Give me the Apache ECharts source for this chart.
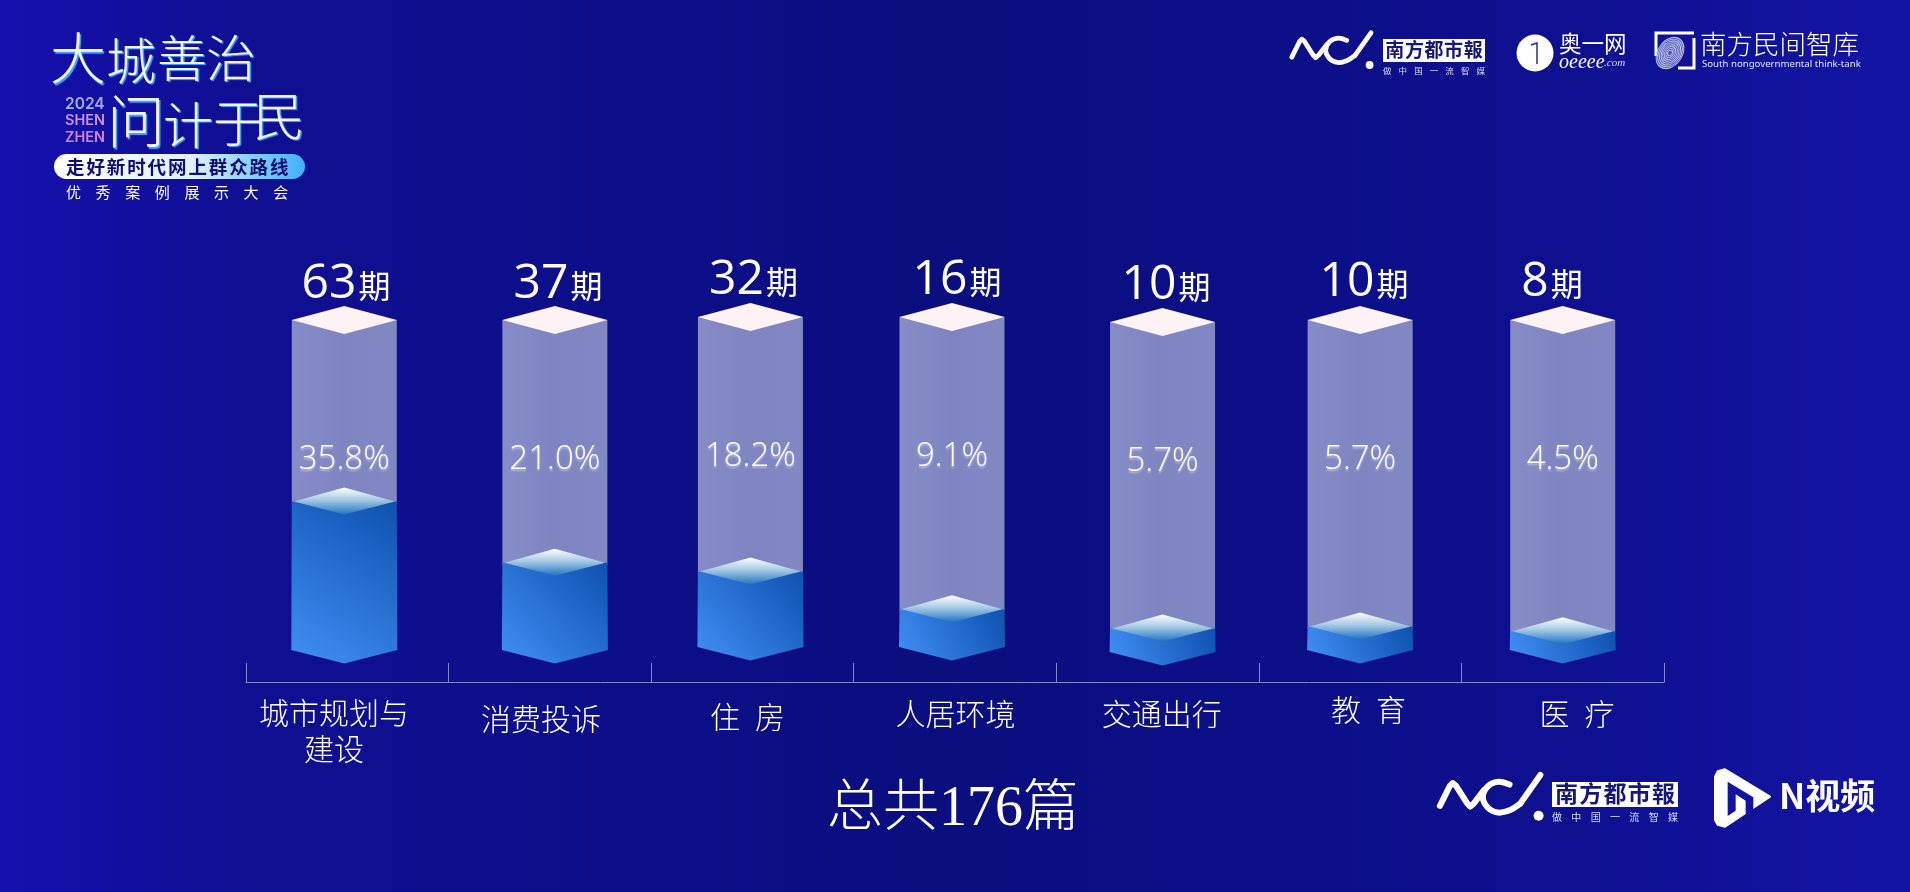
<!DOCTYPE html>
<html><head><meta charset="utf-8">
<style>html,body{margin:0;padding:0;background:#0a0e7e;overflow:hidden}#c{width:1910px;height:892px}</style>
<script src="https://cdn.jsdelivr.net/npm/echarts@6/dist/echarts.min.js"></script>
</head><body><div id="c"></div>
<script>
// ---- data ----
const categories = ['城市规划与\n建设','消费投诉','住 房','人居环境','交通出行','教 育','医 疗'];
const issueCounts = [63,37,32,16,10,10,8];
const sharePercent = ['35.8%','21.0%','18.2%','9.1%','5.7%','5.7%','4.5%'];
const totalLabel = '总共176篇';

// ---- hand placement seen in the artwork, kept apart from the data ----
const barNudgeX = [-3,5,-2,-3,5,0,0];
const barNudgeY = [0,0,-3,-3,2,0,0];
const countCenterX = [347,559,754.5,958,1167,1365,1553];
const countBaseY = [297,297,293,293,298,295,295];
const catCenterX = [334,541,747.5,955.5,1161.7,1368.5,1577];
const catCenterY = [713,719,717,714,714,710,714];

const CJK = '"Noto Sans CJK SC"';
const chart = echarts.init(document.getElementById('c'), null, {renderer:'canvas', width:1910, height:892});
const LG = echarts.graphic.LinearGradient;
const halfW = 52.5, capH = 14;
const DIGIT_FONT = '400 48px "Open Sans"';
const measure = document.createElement('canvas').getContext('2d');

function renderBar(params, api){
  const i = api.value(0), v = api.value(1);
  const cx = api.coord([i,0])[0] + barNudgeX[i], dy = barNudgeY[i];
  const base = api.coord([i,0])[1] + dy;
  const top = api.coord([i,140])[1] + dy;
  const fill = api.coord([i,v])[1] + dy;
  const L = cx-halfW, R = cx+halfW;
  measure.font = DIGIT_FONT;
  const dw = measure.measureText(String(v)).width;
  const split = countCenterX[i] - (dw+36)/2 + dw + 2;
  const kids = [
    {type:'polygon',shape:{points:[[L,top],[R,top],[R,fill+2],[L,fill+2]]},
      style:{fill:new LG(0,0,1,0,[{offset:0,color:'#868cc6'},{offset:.5,color:'#7e85c1'},{offset:1,color:'#8288c4'}])}},
    {type:'polygon',shape:{points:[[L,fill],[R,fill],[R+.5,base],[cx,base+13.5],[L-.5,base]]},
      style:{fill:new LG(0,1,1,0,[{offset:0,color:'#418ff5'},{offset:1,color:'#0f52b0'}])}},
    {type:'polygon',shape:{points:[[L+2,fill],[cx,fill-14],[R-2,fill],[cx,fill+13]]},
      style:{fill:new LG(0,0,0,1,[{offset:0,color:'#ffffff'},{offset:.45,color:'#a8cbe6'},{offset:1,color:'#1f74c2'}])}},
    {type:'polygon',shape:{points:[[L,top],[cx,top-capH],[R,top],[cx,top+capH]]},style:{fill:'#fff3f5'}},
    {type:'text',style:{text:sharePercent[i],x:cx,y:top+140,textAlign:'center',textVerticalAlign:'middle',
      fill:'#fff',font:'300 33px "Open Sans"',textShadowColor:'rgba(255,255,255,.45)',textShadowBlur:2,textShadowOffsetY:2}},
    {type:'text',style:{text:String(v),x:split-2,y:countBaseY[i]-13,textAlign:'right',textVerticalAlign:'middle',fill:'#fff',font:DIGIT_FONT}},
    {type:'text',style:{text:'期',x:split,y:countBaseY[i]-11,textAlign:'left',textVerticalAlign:'middle',fill:'#fff',font:'400 32px '+CJK}},
    {type:'text',style:{text:categories[i].replace(' ','\u2002'),x:catCenterX[i],y:catCenterY[i]-18,textAlign:'center',textVerticalAlign:'top',
      fill:'#fff',font:'300 30px '+CJK,lineHeight:36}}
  ];
  return {type:'group',children:kids};
}

// ---- decoration: logos and titles ----
const W='#fff', g=[];
const T=(text,x,y,font,fill,extra)=>g.push({type:'text',x,y,silent:true,style:Object.assign({text,font,fill,textVerticalAlign:'top'},extra||{})});
const spaced=(s,x0,step,y,font,fill)=>[...s].forEach((c,k)=>T(c,x0+k*step,y,font,fill));

[['大',50,30,56],['城',106,36,50],['善',157,33,50],['治',206,33,50],['问',107,92,58],['计',163,100,50],['于',213,98,50],['民',253,90,52]]
  .forEach(a=>T(a[0],a[1],a[2],'300 '+a[3]+'px '+CJK,'#eef5ff',{textShadowColor:'#4aa6ff',textShadowBlur:1,textShadowOffsetX:1.5,textShadowOffsetY:1.5}));
T('2024',65,96,'600 15.5px Inter','#a9a9ea');
T('SHEN',65,113,'600 14.5px Inter','#cc92e2');
T('ZHEN',65,130,'600 14.5px Inter','#d284da');
g.push({type:'rect',silent:true,shape:{x:54,y:154,width:251,height:25,r:12.5},
  style:{fill:new LG(0,0,1,0,[{offset:0,color:'#ffffff'},{offset:.55,color:'#dff0ff'},{offset:1,color:'#3fb0fb'}])}});
spaced('走好新时代网上群众路线',66,20.4,158,'700 18.5px '+CJK,'#0d1070');
spaced('优秀案例展示大会',66,29.6,185,'400 15px '+CJK,W);

function nc(ox,oy,s){
  const p=(x,y)=>[ox+x*s,oy+y*s], lw=17*s;
  const st={stroke:W,lineWidth:lw,fill:'none',lineCap:'round',lineJoin:'round'};
  g.push({type:'polyline',silent:true,shape:{points:[p(42,122),p(70,66),p(78,58),p(87,65),p(118,114),p(127,124),p(137,116),p(166,78)]},style:st});
  g.push({type:'polyline',silent:true,shape:{smooth:.35,points:[p(238,62),p(208,54),p(178,66),p(163,96),p(176,126),p(206,141),p(240,134),p(268,116)]},style:st});
  g.push({type:'line',silent:true,shape:{x1:p(268,0)[0],y1:p(0,116)[1],x2:p(325,0)[0],y2:p(0,35)[1]},style:st});
  g.push({type:'circle',silent:true,shape:{cx:p(320,0)[0],cy:p(0,150)[1],r:14*s},style:{fill:W}});
}
function paper(x,y,w,h,fs,subFs,subW){
  g.push({type:'rect',silent:true,shape:{x,y,width:w,height:h},style:{fill:W}});
  [...'南方都市報'].forEach((c,k)=>T(c,x+w*.02+k*(w*.96/5)+(w*.96/5-fs)/2,y+(h-fs)/2-1,'700 '+fs+'px '+CJK,'#15187a'));
  [...'做中国一流智媒'].forEach((c,k)=>T(c,x+k*((subW-subFs)/6),y+h+(subFs*.55),'400 '+subFs+'px '+CJK,'#d8dcf4'));
}
nc(1425,762.5,.355); paper(1552,782,126,25,23,10,126);
nc(1280,23,.28); paper(1383,39,102,23,19,8.5,102);

// 奥一网
g.push({type:'circle',silent:true,shape:{cx:1535,cy:53,r:18.5},style:{fill:W}});
g.push({type:'polyline',silent:true,shape:{points:[[1531,45],[1537,43],[1537,64]]},style:{stroke:'#20248a',lineWidth:1.4,fill:'none'}});
T('奥一网',1559,32,'400 22.5px '+CJK,W);
T('oeeee',1559,53,'italic 20px "Liberation Serif"',W);
T('.com',1604,58,'italic 11px "Liberation Serif"','#d8dcf4');

// 南方民间智库
g.push({type:'polyline',silent:true,shape:{points:[[1656,56],[1656,33],[1694,33]]},style:{stroke:W,lineWidth:3,fill:'none'}});
g.push({type:'polyline',silent:true,shape:{points:[[1694,38],[1694,68],[1678,68]]},style:{stroke:W,lineWidth:3,fill:'none'}});
[17,15,13,11,9,7,5,3].forEach((r,k)=>g.push({type:'circle',silent:true,x:1670,y:53,rotation:-.6,scaleX:.72,
  shape:{cx:0,cy:0,r},style:{fill:k===0?'rgba(150,165,225,.45)':'none',stroke:'#ccd4f2',lineWidth:1}}));
T('南方民间智库',1700,31,'300 26.5px '+CJK,W);
T('South nongovernmental think-tank',1702,59,'400 9.65px "Noto Sans"','#e6e9fa');

// N视频
const ip=(x,y)=>[1705+x/3,760+y/3];
g.push({type:'polygon',silent:true,shape:{points:[ip(30,50),ip(38,34),ip(60,28),ip(195,110),ip(60,200),ip(38,194),ip(30,180)]},style:{fill:W,stroke:W,lineWidth:2,lineJoin:'round'}});
g.push({type:'polygon',silent:true,shape:{points:[ip(68,65),ip(145,112),ip(145,160),ip(122,172),ip(122,122),ip(92,103),ip(92,152),ip(68,168)]},style:{fill:'#1214a0'}});
T('N视频',1779,778,'700 35px '+CJK,W);

chart.setOption({
  animation:false,
  backgroundColor:new LG(0,0,1,0,[{offset:0,color:'#150fad'},{offset:.125,color:'#100f93'},{offset:.5,color:'#0a0e7e'},{offset:.82,color:'#0e1090'},{offset:1,color:'#1414a4'}]),
  title:{text:totalLabel,left:948,top:777,textAlign:'center',textStyle:{color:'#fff',fontFamily:'"Liberation Serif",'+CJK,fontSize:56,fontWeight:300}},
  grid:{left:246,right:246,top:320,bottom:242},
  xAxis:{type:'category',data:categories,offset:32,
    axisLine:{onZero:false,lineStyle:{color:'#7f88cc',width:1}},
    axisTick:{show:true,inside:true,length:19,lineStyle:{color:'#7f88cc',width:1}},
    axisLabel:{show:false},splitLine:{show:false}},
  yAxis:{type:'value',min:0,max:140,show:false,splitLine:{show:false}},
  series:[{type:'custom',name:'期数',clip:false,renderItem:renderBar,
    encode:{x:0,y:1},data:issueCounts.map((v,i)=>[i,v])}],
  graphic:g
});
</script></body></html>
